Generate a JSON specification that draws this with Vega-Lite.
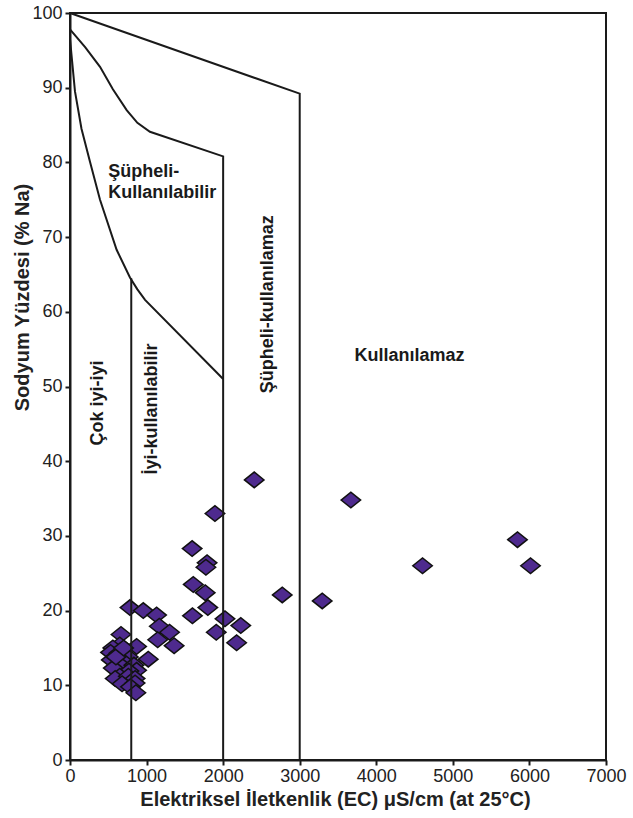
{
  "$schema": "https://vega.github.io/schema/vega-lite/v6.json",
  "width": 536,
  "height": 747,
  "autosize": {"type": "none"},
  "padding": {"left": 70, "top": 13, "right": 27, "bottom": 58},
  "background": "white",
  "config": {
    "view": {"stroke": "#1a1a1a", "strokeWidth": 2},
    "font": "Liberation Sans",
    "axis": {
      "domainColor": "#1a1a1a", "domainWidth": 2,
      "tickColor": "#1a1a1a", "tickWidth": 2, "tickSize": 5,
      "labelFont": "Liberation Sans", "labelFontSize": 18, "labelColor": "#222222",
      "titleFont": "Liberation Sans", "titleFontSize": 20, "titleFontWeight": "bold", "titleColor": "#222222",
      "grid": false, "labelFlush": false, "labelOverlap": false, "labelBound": false
    }
  },
  "datasets": {
    "samples": [
      {"ec": 2406, "na": 37.5}, {"ec": 3668, "na": 34.8}, {"ec": 4604, "na": 26.0},
      {"ec": 5844, "na": 29.5}, {"ec": 6014, "na": 26.0}, {"ec": 1893, "na": 33.0},
      {"ec": 1595, "na": 28.3}, {"ec": 1790, "na": 26.4}, {"ec": 1775, "na": 25.8},
      {"ec": 2772, "na": 22.1}, {"ec": 3294, "na": 21.3}, {"ec": 1610, "na": 23.5},
      {"ec": 1766, "na": 22.4}, {"ec": 1800, "na": 20.4}, {"ec": 1599, "na": 19.3},
      {"ec": 2024, "na": 18.9}, {"ec": 2230, "na": 18.0}, {"ec": 1910, "na": 17.1},
      {"ec": 2176, "na": 15.7},
      {"ec": 783, "na": 20.4}, {"ec": 957, "na": 20.0}, {"ec": 1131, "na": 19.4},
      {"ec": 1166, "na": 17.9}, {"ec": 1300, "na": 17.1}, {"ec": 1145, "na": 16.1},
      {"ec": 1360, "na": 15.3}, {"ec": 1022, "na": 13.5}, {"ec": 870, "na": 15.2},
      {"ec": 666, "na": 16.8}, {"ec": 650, "na": 15.4}, {"ec": 560, "na": 15.0},
      {"ec": 530, "na": 14.4}, {"ec": 640, "na": 14.3}, {"ec": 540, "na": 13.4},
      {"ec": 762, "na": 13.8}, {"ec": 720, "na": 13.0}, {"ec": 660, "na": 12.7},
      {"ec": 835, "na": 12.7}, {"ec": 565, "na": 12.3}, {"ec": 870, "na": 12.0},
      {"ec": 770, "na": 11.9}, {"ec": 650, "na": 11.2}, {"ec": 590, "na": 10.9},
      {"ec": 762, "na": 11.2}, {"ec": 850, "na": 10.9}, {"ec": 680, "na": 10.2},
      {"ec": 850, "na": 10.3}, {"ec": 790, "na": 9.8}, {"ec": 860, "na": 9.0},
      {"ec": 600, "na": 13.8}, {"ec": 700, "na": 15.0}
    ],
    "bounds": [
      {"seg": "A", "ord": 1, "ec": 0, "na": 100},
      {"seg": "A", "ord": 2, "ec": 3000, "na": 89.2},
      {"seg": "A", "ord": 3, "ec": 3000, "na": 0},
      {"seg": "B", "ord": 1, "ec": 0, "na": 97.8},
      {"seg": "B", "ord": 2, "ec": 200, "na": 95.4},
      {"seg": "B", "ord": 3, "ec": 392, "na": 92.8},
      {"seg": "B", "ord": 4, "ec": 560, "na": 89.8},
      {"seg": "B", "ord": 5, "ec": 740, "na": 87.0},
      {"seg": "B", "ord": 6, "ec": 880, "na": 85.3},
      {"seg": "B", "ord": 7, "ec": 1044, "na": 84.1},
      {"seg": "B", "ord": 8, "ec": 2000, "na": 80.8},
      {"seg": "B", "ord": 9, "ec": 2000, "na": 0},
      {"seg": "C", "ord": 1, "ec": 0, "na": 96.5},
      {"seg": "C", "ord": 2, "ec": 65, "na": 89.5},
      {"seg": "C", "ord": 3, "ec": 150, "na": 84.5},
      {"seg": "C", "ord": 4, "ec": 261, "na": 80.1},
      {"seg": "C", "ord": 5, "ec": 392, "na": 75.0},
      {"seg": "C", "ord": 6, "ec": 609, "na": 68.3},
      {"seg": "C", "ord": 7, "ec": 783, "na": 64.6},
      {"seg": "C", "ord": 8, "ec": 880, "na": 63.0},
      {"seg": "C", "ord": 9, "ec": 980, "na": 61.6},
      {"seg": "C", "ord": 10, "ec": 2000, "na": 51.0},
      {"seg": "D", "ord": 1, "ec": 800, "na": 64.5},
      {"seg": "D", "ord": 2, "ec": 800, "na": 0}
    ],
    "hlabels": [
      {"ec": 500, "na": 78.1, "label": "Şüpheli-\nKullanılabilir", "anchor": "left"},
      {"ec": 4435, "na": 53.4, "label": "Kullanılamaz", "anchor": "center"}
    ],
    "vlabels": [
      {"ec": 366, "na": 47.8, "label": "Çok iyi-iyi"},
      {"ec": 1070, "na": 47.0, "label": "İyi-kullanılabilir"},
      {"ec": 2585, "na": 61.0, "label": "Şüpheli-kullanılamaz"}
    ]
  },
  "encoding": {
    "x": {"field": "ec", "type": "quantitative", "scale": {"domain": [0, 7000], "nice": false},
          "axis": {"values": [0, 1000, 2000, 3000, 4000, 5000, 6000, 7000], "format": "d", "labelPadding": 2,
                   "title": "Elektriksel İletkenlik (EC) μS/cm (at 25°C)", "titleBaseline": "alphabetic", "titleX": 265, "titleY": 45, "titleAlign": "center"}},
    "y": {"field": "na", "type": "quantitative", "scale": {"domain": [0, 100], "nice": false},
          "axis": {"values": [0, 10, 20, 30, 40, 50, 60, 70, 80, 90, 100], "format": "d", "labelPadding": 3,
                   "title": "Sodyum Yüzdesi (% Na)", "titleX": -38, "titleY": 284, "titleAngle": 270, "titleBaseline": "bottom", "titleAlign": "center"}}
  },
  "layer": [
    {
      "data": {"name": "samples"},
      "mark": {"type": "point", "shape": "M-1,0L0,-0.8L1,0L0,0.8Z", "size": 380, "filled": true, "fill": "#4e2a8e", "stroke": "#111111", "strokeWidth": 1.5, "opacity": 1}
    },
    {
      "data": {"name": "bounds"},
      "mark": {"type": "line", "stroke": "#1a1a1a", "strokeWidth": 2, "strokeJoin": "miter"},
      "encoding": {
        "detail": {"field": "seg", "type": "nominal"},
        "order": {"field": "ord", "type": "quantitative"}
      }
    },
    {
      "data": {"name": "hlabels"},
      "transform": [{"filter": "datum.anchor === 'left'"}],
      "mark": {"type": "text", "align": "left", "baseline": "alphabetic", "fontSize": 18, "fontWeight": "bold", "fill": "#1a1a1a", "lineBreak": "\n", "lineHeight": 21},
      "encoding": {"text": {"field": "label"}}
    },
    {
      "data": {"name": "hlabels"},
      "transform": [{"filter": "datum.anchor === 'center'"}],
      "mark": {"type": "text", "align": "center", "baseline": "alphabetic", "fontSize": 18, "fontWeight": "bold", "fill": "#1a1a1a"},
      "encoding": {"text": {"field": "label"}}
    },
    {
      "data": {"name": "vlabels"},
      "mark": {"type": "text", "align": "center", "baseline": "middle", "angle": 270, "fontSize": 18, "fontWeight": "bold", "fill": "#1a1a1a"},
      "encoding": {"text": {"field": "label"}}
    }
  ]
}
